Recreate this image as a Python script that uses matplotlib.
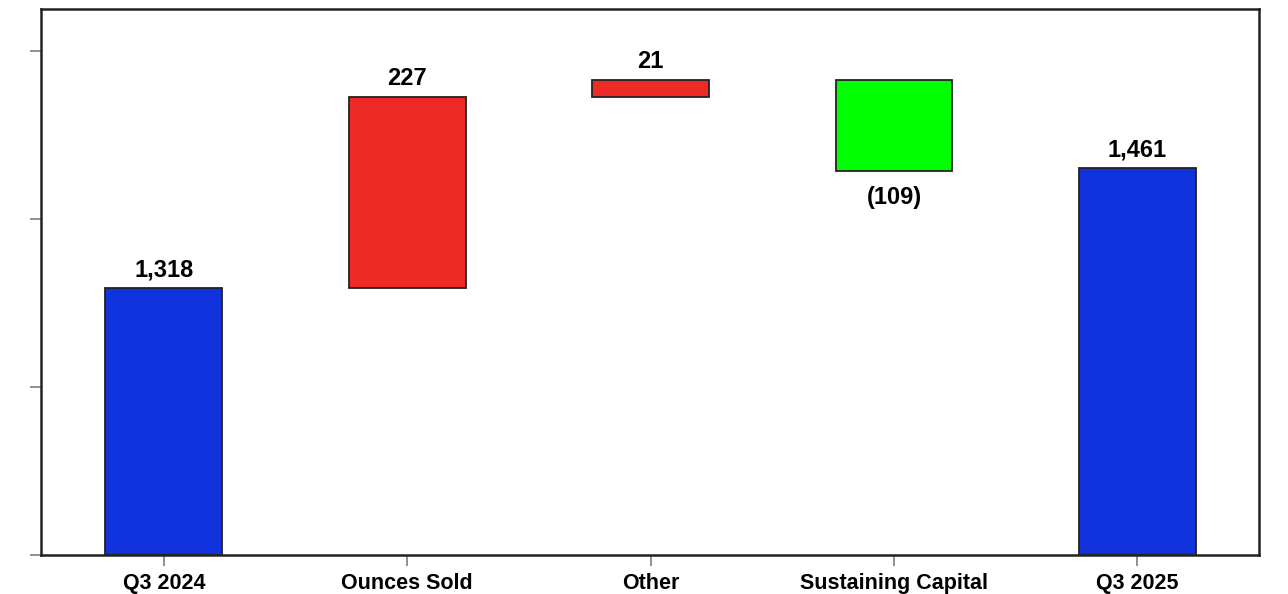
import matplotlib
matplotlib.use("Agg")
import matplotlib.pyplot as plt
import numpy as np

categories = ["Q3 2024", "Ounces Sold", "Other", "Sustaining Capital", "Q3 2025"]
changes = [1318, 227, 21, -109, 1461]
kinds = ["total", "delta", "delta", "delta", "total"]
labels = ["1,318", "227", "21", "(109)", "1,461"]
y_ticks = [1000, 1200, 1400, 1600]
y_min, y_max = 1000, 1650

col_total = "#1133DD"
col_up = "#EE2A27"
col_down = "#00FF00"

plt.rcParams['font.family'] = ['Liberation Sans', 'DejaVu Sans']

fig = plt.figure(figsize=(12.88, 5.94), dpi=100)
ax = fig.add_axes([41/1288, 39/594, (1259-41)/1288, (555-9)/594])

x = np.arange(len(categories))
running = 0
for i, (c, k, lab) in enumerate(zip(changes, kinds, labels)):
    if k == "total":
        bottom, height, color = y_min, c - y_min, col_total
        running = c
    else:
        if c >= 0:
            bottom, height, color = running, c, col_up
        else:
            bottom, height, color = running + c, -c, col_down
        running += c
    ax.bar(x[i], height, bottom=bottom, width=0.48, color=color,
           edgecolor="#222222", linewidth=1.3)
    if k == "delta" and c < 0:
        ax.text(x[i], bottom - 18, lab, ha="center", va="top",
                fontsize=17, fontweight="bold")
    else:
        ax.text(x[i], bottom + height + 8, lab, ha="center", va="bottom",
                fontsize=17, fontweight="bold")

ax.set_xlim(-0.505, 4.5)
ax.set_ylim(y_min, y_max)
ax.set_xticks(x)
ax.set_xticklabels(categories, fontsize=15.5, fontweight="bold")
ax.set_yticks(y_ticks)
ax.set_yticklabels([])
ax.tick_params(axis="both", colors="#888888", length=8, width=1.3,
               labelcolor="black")
ax.tick_params(axis="x", pad=5)
for s in ax.spines.values():
    s.set_color("#222222")
    s.set_linewidth(1.8)

fig.savefig("out.png", dpi=100)
